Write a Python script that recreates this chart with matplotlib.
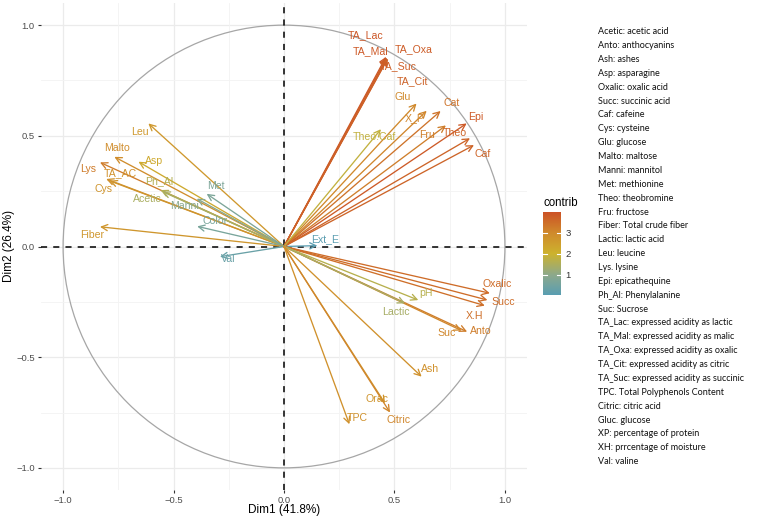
import matplotlib.pyplot as plt
import numpy as np
from matplotlib.colors import LinearSegmentedColormap, Normalize
from matplotlib.patches import Circle

plt.rcParams['font.family'] = ['Liberation Sans', 'DejaVu Sans']

# variable names, PCA coordinates (Dim1, Dim2) and contribution
names = ['TA_Lac', 'TA_Mal', 'TA_Oxa', 'TA_Suc', 'TA_Cit', 'Glu', 'X_P', 'Cat', 'Fru',
         'Epi', 'Theo', 'Caf', 'Theo.Caf', 'Leu', 'Malto', 'Asp', 'Lys', 'TA_AC', 'Cys',
         'Ph_Al', 'Acetic', 'Manni', 'Met', 'Color', 'Fiber', 'Val', 'Ext_E', 'Oxalic',
         'Succ', 'X.H', 'Anto', 'Suc', 'pH', 'Lactic', 'Ash', 'Orac', 'Citric', 'TPC']
dim1 = [0.462, 0.467, 0.470, 0.465, 0.468, 0.600, 0.646, 0.709, 0.733,
        0.827, 0.842, 0.860, 0.439, -0.614, -0.768, -0.659, -0.833, -0.805, -0.790,
        -0.559, -0.550, -0.395, -0.350, -0.393, -0.833, -0.290, 0.151, 0.932,
        0.921, 0.909, 0.829, 0.804, 0.608, 0.548, 0.623, 0.457, 0.480, 0.296]
dim2 = [0.857, 0.852, 0.849, 0.853, 0.848, 0.646, 0.613, 0.612, 0.547,
        0.556, 0.489, 0.458, 0.530, 0.556, 0.405, 0.383, 0.380, 0.305, 0.297,
        0.255, 0.248, 0.216, 0.238, 0.091, 0.089, -0.046, 0.004, -0.211,
        -0.242, -0.267, -0.385, -0.380, -0.242, -0.257, -0.588, -0.708, -0.750, -0.803]
contrib = [3.90, 3.85, 3.80, 3.75, 3.70, 3.00, 3.06, 3.39, 3.20,
           3.83, 3.66, 3.65, 1.83, 2.65, 2.91, 2.24, 3.24, 2.84, 2.75,
           1.60, 1.45, 0.90, 0.69, 0.63, 2.71, 0.33, 0.09, 3.52,
           3.50, 3.46, 3.22, 3.05, 1.65, 1.41, 2.83, 2.74, 3.06, 2.83]

# label placement (repelled text positions)
label_xy = {
    'TA_Lac': (0.367, 0.955), 'TA_Mal': (0.392, 0.883), 'TA_Oxa': (0.588, 0.890),
    'TA_Suc': (0.516, 0.816), 'TA_Cit': (0.582, 0.749), 'Glu': (0.538, 0.675),
    'X_P': (0.593, 0.580), 'Cat': (0.759, 0.646), 'Fru': (0.646, 0.503),
    'Theo': (0.774, 0.511), 'Epi': (0.869, 0.586), 'Caf': (0.899, 0.420),
    'Theo.Caf': (0.407, 0.493), 'Leu': (-0.652, 0.516), 'Malto': (-0.754, 0.443),
    'Asp': (-0.588, 0.387), 'Lys': (-0.886, 0.349), 'TA_AC': (-0.742, 0.330),
    'Cys': (-0.818, 0.258), 'Ph_Al': (-0.564, 0.296), 'Acetic': (-0.617, 0.214),
    'Manni': (-0.452, 0.183), 'Met': (-0.308, 0.273), 'Color': (-0.312, 0.116),
    'Fiber': (-0.870, 0.052), 'Val': (-0.252, -0.058), 'Ext_E': (0.186, 0.034),
    'Oxalic': (0.965, -0.169), 'Succ': (0.992, -0.249), 'X.H': (0.864, -0.314),
    'Anto': (0.891, -0.381), 'Suc': (0.736, -0.392), 'pH': (0.641, -0.209),
    'Lactic': (0.507, -0.294), 'Ash': (0.661, -0.553), 'Orac': (0.422, -0.688),
    'Citric': (0.520, -0.786), 'TPC': (0.333, -0.773),
}

glossary = [
    'Acetic: acetic acid', 'Anto: anthocyanins', 'Ash: ashes', 'Asp: asparagine',
    'Oxalic: oxalic acid', 'Succ: succinic acid', 'Caf: cafeine', 'Cys: cysteine',
    'Glu: glucose', 'Malto: maltose', 'Manni: mannitol', 'Met: methionine',
    'Theo: theobromine', 'Fru: fructose', 'Fiber: Total crude fiber',
    'Lactic: lactic acid', 'Leu: leucine', 'Lys. lysine', 'Epi: epicathequine',
    'Ph_Al: Phenylalanine', 'Suc: Sucrose', 'TA_Lac: expressed acidity as lactic',
    'TA_Mal: expressed acidity as malic', 'TA_Oxa: expressed acidity as oxalic',
    'TA_Cit: expressed acidity as citric', 'TA_Suc: expressed acidity as succinic',
    'TPC. Total Polyphenols Content', 'Citric: citric acid', 'Gluc. glucose',
    'XP: percentage of protein', 'XH: prrcentage of moisture', 'Val: valine',
]

vmin, vmax = 0.05, 3.98
def pos(v):
    return (v - vmin) / (vmax - vmin)

cmap = LinearSegmentedColormap.from_list(
    'contrib', [(0, '#5A9EB2'), (pos(1.0), '#8DA98B'), (pos(2.0), '#CDB32E'),
                (pos(3.0), '#D08A2C'), (1, '#CC5226')])
norm = Normalize(vmin, vmax)

fig = plt.figure(figsize=(7.61, 5.18), dpi=100)
ax = fig.add_axes([41 / 761, 28 / 518, 486 / 761, 487 / 518])

# grid like theme_minimal
for v in [-1, -0.5, 0, 0.5, 1]:
    ax.axvline(v, color='#EBEBEB', lw=0.9, zorder=0)
    ax.axhline(v, color='#EBEBEB', lw=0.9, zorder=0)
for v in [-0.75, -0.25, 0.25, 0.75]:
    ax.axvline(v, color='#F3F3F3', lw=0.6, zorder=0)
    ax.axhline(v, color='#F3F3F3', lw=0.6, zorder=0)

ax.add_patch(Circle((0, 0), 1, fill=False, ec='#A6A6A6', lw=0.9, zorder=1))
ax.axhline(0, color='black', ls=(0, (4, 4)), lw=1.1, zorder=2)
ax.axvline(0, color='black', ls=(0, (4, 4)), lw=1.1, zorder=2)

for n, x, y, c in zip(names, dim1, dim2, contrib):
    col = cmap(norm(c))
    ax.annotate('', xy=(x, y), xytext=(0, 0),
                arrowprops=dict(arrowstyle='->', color=col, lw=0.95,
                                shrinkA=0, shrinkB=0, mutation_scale=11),
                zorder=3)
    lx, ly = label_xy[n]
    ax.text(lx, ly, n, color=col, fontsize=7.6, ha='center', va='center', zorder=4)

ax.set_xlim(-1.1, 1.1)
ax.set_ylim(-1.1, 1.1)
ax.set_xticks([-1.0, -0.5, 0.0, 0.5, 1.0])
ax.set_yticks([-1.0, -0.5, 0.0, 0.5, 1.0])
ax.tick_params(labelsize=6.8, labelcolor='#4D4D4D', color='#333333', length=2.5,
               width=0.8, pad=2)
for s in ax.spines.values():
    s.set_visible(False)
fig.text(284 / 761, 1 - 510 / 518, 'Dim1 (41.8%)', fontsize=8.5, ha='center', va='center')
fig.text(9 / 761, 1 - 246 / 518, 'Dim2 (26.4%)', fontsize=8.5, ha='center', va='center',
         rotation=90)

# colour bar
cax = fig.add_axes([543 / 761, (518 - 295) / 518, 18 / 761, 83 / 518])
grad = np.linspace(vmin, vmax, 200).reshape(-1, 1)
cax.imshow(grad, aspect='auto', cmap=cmap, norm=norm, origin='lower',
           extent=[0, 1, vmin, vmax])
for t in [1, 2, 3]:
    cax.plot([0, 0.2], [t, t], color='white', lw=0.8)
    cax.plot([0.8, 1], [t, t], color='white', lw=0.8)
cax.set_xlim(0, 1)
cax.set_ylim(vmin, vmax)
cax.set_xticks([])
cax.yaxis.tick_right()
cax.set_yticks([1, 2, 3])
cax.tick_params(length=0, labelsize=6.8, labelcolor='#333333', pad=3)
for s in cax.spines.values():
    s.set_visible(False)
fig.text(543 / 761, 1 - 203 / 518, 'contrib', fontsize=8.3, va='center', ha='left')

# glossary text
for i, line in enumerate(glossary):
    fig.text(598 / 761, 1 - (31.7 + i * 13.87) / 518, line, fontsize=6.5,
             family=['Lato', 'DejaVu Sans'], va='center', ha='left', color='#111111')

fig.savefig('out.png', dpi=100)
